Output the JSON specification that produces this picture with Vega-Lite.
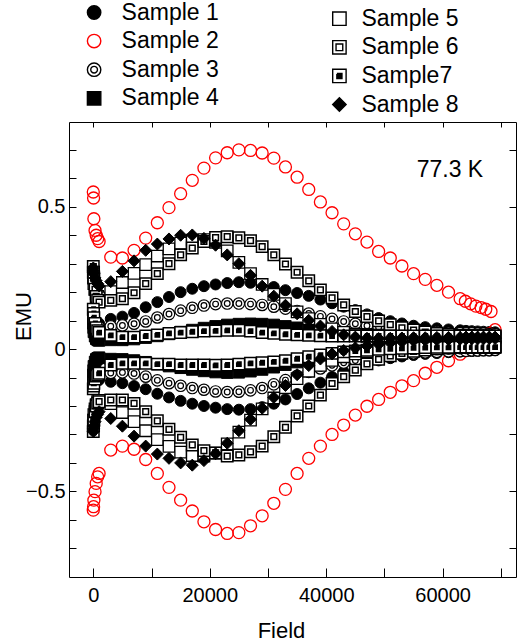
{
"$schema": "https://vega.github.io/schema/vega-lite/v6.json",
"width": 447,
"height": 455,
"autosize": {"type": "none"},
"padding": {"left": 69, "top": 122, "right": 1, "bottom": 67},
"config": {
  "font": "Liberation Sans",
  "view": {"stroke": "black", "strokeWidth": 1},
  "axis": {"domain": false, "grid": false, "tickColor": "black", "tickWidth": 1, "labelColor": "black", "titleColor": "black", "labelFontSize": 20, "titleFontSize": 22, "titleFontWeight": "normal", "labelOverlap": false},
  "legend": {"title": null, "labelFontSize": 23, "labelColor": "black", "symbolSize": 180, "symbolStrokeWidth": 1.4, "rowPadding": 4.6, "padding": 0, "labelLimit": 0},
  "point": {"opacity": 1}
},
"data": {"values": [
{"x":0,"b":"up","s1":0.100,"s2":0.552,"s3":0.130,"s4":0.090,"s5":0.270,"s6":0.290,"s7":0.140,"s8":0.285},
{"x":50,"b":"up","s1":0.092,"s2":0.531,"s3":0.115,"s4":0.075,"s5":0.250,"s6":0.270,"s7":0.125,"s8":0.275},
{"x":100,"b":"up","s1":0.086,"s2":0.458,"s3":0.100,"s4":0.060,"s5":0.230,"s6":0.250,"s7":0.110,"s8":0.265},
{"x":300,"b":"up","s1":0.083,"s2":0.417,"s3":0.090,"s4":0.045,"s5":0.210,"s6":0.210,"s7":0.090,"s8":0.250},
{"x":500,"b":"up","s1":0.084,"s2":0.400,"s3":0.085,"s4":0.036,"s5":0.195,"s6":0.185,"s7":0.075,"s8":0.240},
{"x":750,"b":"up","s1":0.087,"s2":0.388,"s3":0.080,"s4":0.032,"s5":0.185,"s6":0.172,"s7":0.065,"s8":0.230},
{"x":1000,"b":"up","s1":0.090,"s2":0.378,"s3":0.078,"s4":0.030,"s5":0.180,"s6":0.165,"s7":0.058,"s8":0.222},
{"x":3000,"b":"up","s1":0.106,"s2":0.323,"s3":0.080,"s4":0.032,"s5":0.202,"s6":0.171,"s7":0.048,"s8":0.237},
{"x":5000,"b":"up","s1":0.114,"s2":0.320,"s3":0.083,"s4":0.032,"s5":0.234,"s6":0.177,"s7":0.042,"s8":0.273},
{"x":7000,"b":"up","s1":0.127,"s2":0.347,"s3":0.089,"s4":0.035,"s5":0.266,"s6":0.198,"s7":0.042,"s8":0.310},
{"x":9000,"b":"up","s1":0.147,"s2":0.390,"s3":0.097,"s4":0.040,"s5":0.297,"s6":0.230,"s7":0.046,"s8":0.347},
{"x":11000,"b":"up","s1":0.165,"s2":0.444,"s3":0.111,"s4":0.046,"s5":0.327,"s6":0.265,"s7":0.050,"s8":0.369},
{"x":13000,"b":"up","s1":0.183,"s2":0.497,"s3":0.123,"s4":0.053,"s5":0.352,"s6":0.300,"s7":0.055,"s8":0.387},
{"x":15000,"b":"up","s1":0.200,"s2":0.546,"s3":0.135,"s4":0.060,"s5":0.372,"s6":0.331,"s7":0.058,"s8":0.400},
{"x":17000,"b":"up","s1":0.212,"s2":0.593,"s3":0.145,"s4":0.067,"s5":0.383,"s6":0.355,"s7":0.061,"s8":0.401},
{"x":19000,"b":"up","s1":0.221,"s2":0.636,"s3":0.153,"s4":0.074,"s5":0.385,"s6":0.378,"s7":0.063,"s8":0.389},
{"x":21000,"b":"up","s1":0.227,"s2":0.672,"s3":0.158,"s4":0.080,"s5":0.375,"s6":0.392,"s7":0.064,"s8":0.365},
{"x":23000,"b":"up","s1":0.232,"s2":0.690,"s3":0.160,"s4":0.085,"s5":0.345,"s6":0.395,"s7":0.066,"s8":0.331},
{"x":25000,"b":"up","s1":0.235,"s2":0.700,"s3":0.160,"s4":0.088,"s5":0.305,"s6":0.391,"s7":0.066,"s8":0.300},
{"x":27000,"b":"up","s1":0.233,"s2":0.698,"s3":0.158,"s4":0.089,"s5":0.265,"s6":0.381,"s7":0.063,"s8":0.259},
{"x":29000,"b":"up","s1":0.227,"s2":0.689,"s3":0.155,"s4":0.088,"s5":0.227,"s6":0.360,"s7":0.058,"s8":0.221},
{"x":31000,"b":"up","s1":0.218,"s2":0.671,"s3":0.149,"s4":0.085,"s5":0.192,"s6":0.331,"s7":0.055,"s8":0.186},
{"x":33000,"b":"up","s1":0.207,"s2":0.640,"s3":0.142,"s4":0.080,"s5":0.160,"s6":0.299,"s7":0.052,"s8":0.154},
{"x":35000,"b":"up","s1":0.197,"s2":0.604,"s3":0.134,"s4":0.075,"s5":0.131,"s6":0.270,"s7":0.050,"s8":0.124},
{"x":37000,"b":"up","s1":0.187,"s2":0.561,"s3":0.125,"s4":0.070,"s5":0.107,"s6":0.240,"s7":0.048,"s8":0.101},
{"x":39000,"b":"up","s1":0.174,"s2":0.517,"s3":0.115,"s4":0.065,"s5":0.087,"s6":0.208,"s7":0.047,"s8":0.081},
{"x":41000,"b":"up","s1":0.161,"s2":0.479,"s3":0.106,"s4":0.061,"s5":0.071,"s6":0.180,"s7":0.046,"s8":0.062},
{"x":43000,"b":"up","s1":0.149,"s2":0.440,"s3":0.097,"s4":0.057,"s5":0.059,"s6":0.155,"s7":0.046,"s8":0.050},
{"x":45000,"b":"up","s1":0.137,"s2":0.405,"s3":0.089,"s4":0.054,"s5":0.050,"s6":0.132,"s7":0.046,"s8":0.042},
{"x":47000,"b":"up","s1":0.122,"s2":0.376,"s3":0.082,"s4":0.052,"s5":0.045,"s6":0.114,"s7":0.046,"s8":0.038},
{"x":49000,"b":"up","s1":0.109,"s2":0.343,"s3":0.076,"s4":0.050,"s5":0.042,"s6":0.099,"s7":0.046,"s8":0.037},
{"x":51000,"b":"up","s1":0.098,"s2":0.320,"s3":0.071,"s4":0.049,"s5":0.041,"s6":0.086,"s7":0.046,"s8":0.038},
{"x":53000,"b":"up","s1":0.090,"s2":0.292,"s3":0.067,"s4":0.048,"s5":0.040,"s6":0.075,"s7":0.046,"s8":0.039},
{"x":55000,"b":"up","s1":0.082,"s2":0.265,"s3":0.064,"s4":0.047,"s5":0.040,"s6":0.067,"s7":0.046,"s8":0.040},
{"x":57000,"b":"up","s1":0.077,"s2":0.245,"s3":0.061,"s4":0.046,"s5":0.040,"s6":0.060,"s7":0.046,"s8":0.040},
{"x":59000,"b":"up","s1":0.073,"s2":0.224,"s3":0.059,"s4":0.046,"s5":0.040,"s6":0.055,"s7":0.046,"s8":0.041},
{"x":61000,"b":"up","s1":0.069,"s2":0.200,"s3":0.057,"s4":0.045,"s5":0.040,"s6":0.051,"s7":0.046,"s8":0.041},
{"x":63000,"b":"up","s1":0.066,"s2":0.177,"s3":0.056,"s4":0.045,"s5":0.040,"s6":0.049,"s7":0.046,"s8":0.041},
{"x":64000,"b":"up","s1":0.064,"s3":0.055,"s4":0.045,"s5":0.040,"s6":0.048,"s7":0.046,"s8":0.042},
{"x":65000,"b":"up","s1":0.063,"s3":0.055,"s4":0.045,"s5":0.040,"s6":0.047,"s7":0.046,"s8":0.042},
{"x":66000,"b":"up","s1":0.062,"s3":0.054,"s4":0.045,"s5":0.040,"s6":0.046,"s7":0.046,"s8":0.042},
{"x":67000,"b":"up","s1":0.061,"s3":0.054,"s4":0.045,"s5":0.040,"s6":0.046,"s7":0.046,"s8":0.042},
{"x":68000,"b":"up","s1":0.060,"s3":0.053,"s4":0.045,"s5":0.040,"s6":0.045,"s7":0.046,"s8":0.042},
{"x":69000,"b":"up","s1":0.059,"s3":0.053,"s4":0.045,"s5":0.040,"s6":0.045,"s7":0.046,"s8":0.042},
{"x":63900,"b":"up","s2":0.168},
{"x":64800,"b":"up","s2":0.159},
{"x":65700,"b":"up","s2":0.151},
{"x":66600,"b":"up","s2":0.146},
{"x":67400,"b":"up","s2":0.140},
{"x":68300,"b":"up","s2":0.132},
{"x":0,"b":"low","s1":-0.100,"s2":-0.566,"s3":-0.130,"s4":-0.090,"s5":-0.270,"s6":-0.290,"s7":-0.140,"s8":-0.290},
{"x":50,"b":"low","s1":-0.096,"s2":-0.554,"s3":-0.120,"s4":-0.075,"s5":-0.250,"s6":-0.270,"s7":-0.130,"s8":-0.280},
{"x":100,"b":"low","s1":-0.095,"s2":-0.531,"s3":-0.110,"s4":-0.060,"s5":-0.230,"s6":-0.250,"s7":-0.120,"s8":-0.270},
{"x":300,"b":"low","s1":-0.097,"s2":-0.501,"s3":-0.100,"s4":-0.045,"s5":-0.210,"s6":-0.220,"s7":-0.105,"s8":-0.255},
{"x":500,"b":"low","s1":-0.101,"s2":-0.472,"s3":-0.093,"s4":-0.036,"s5":-0.195,"s6":-0.200,"s7":-0.095,"s8":-0.240},
{"x":750,"b":"low","s1":-0.105,"s2":-0.449,"s3":-0.088,"s4":-0.032,"s5":-0.185,"s6":-0.190,"s7":-0.090,"s8":-0.230},
{"x":1000,"b":"low","s1":-0.108,"s2":-0.437,"s3":-0.085,"s4":-0.030,"s5":-0.180,"s6":-0.185,"s7":-0.085,"s8":-0.220},
{"x":3000,"b":"low","s1":-0.115,"s2":-0.355,"s3":-0.084,"s4":-0.035,"s5":-0.192,"s6":-0.179,"s7":-0.056,"s8":-0.244},
{"x":5000,"b":"low","s1":-0.120,"s2":-0.341,"s3":-0.082,"s4":-0.036,"s5":-0.223,"s6":-0.179,"s7":-0.050,"s8":-0.271},
{"x":7000,"b":"low","s1":-0.130,"s2":-0.352,"s3":-0.086,"s4":-0.040,"s5":-0.255,"s6":-0.191,"s7":-0.050,"s8":-0.306},
{"x":9000,"b":"low","s1":-0.141,"s2":-0.388,"s3":-0.097,"s4":-0.046,"s5":-0.287,"s6":-0.220,"s7":-0.050,"s8":-0.341},
{"x":11000,"b":"low","s1":-0.157,"s2":-0.437,"s3":-0.110,"s4":-0.053,"s5":-0.318,"s6":-0.252,"s7":-0.053,"s8":-0.369},
{"x":13000,"b":"low","s1":-0.170,"s2":-0.486,"s3":-0.120,"s4":-0.060,"s5":-0.342,"s6":-0.282,"s7":-0.053,"s8":-0.384},
{"x":15000,"b":"low","s1":-0.182,"s2":-0.531,"s3":-0.129,"s4":-0.066,"s5":-0.362,"s6":-0.310,"s7":-0.056,"s8":-0.400},
{"x":17000,"b":"low","s1":-0.192,"s2":-0.569,"s3":-0.137,"s4":-0.072,"s5":-0.374,"s6":-0.337,"s7":-0.056,"s8":-0.408},
{"x":19000,"b":"low","s1":-0.200,"s2":-0.607,"s3":-0.143,"s4":-0.077,"s5":-0.376,"s6":-0.357,"s7":-0.056,"s8":-0.392},
{"x":21000,"b":"low","s1":-0.206,"s2":-0.634,"s3":-0.149,"s4":-0.081,"s5":-0.366,"s6":-0.365,"s7":-0.057,"s8":-0.368},
{"x":23000,"b":"low","s1":-0.211,"s2":-0.648,"s3":-0.151,"s4":-0.083,"s5":-0.333,"s6":-0.376,"s7":-0.056,"s8":-0.331},
{"x":25000,"b":"low","s1":-0.213,"s2":-0.645,"s3":-0.150,"s4":-0.082,"s5":-0.292,"s6":-0.372,"s7":-0.053,"s8":-0.287},
{"x":27000,"b":"low","s1":-0.211,"s2":-0.621,"s3":-0.145,"s4":-0.078,"s5":-0.250,"s6":-0.361,"s7":-0.050,"s8":-0.247},
{"x":29000,"b":"low","s1":-0.204,"s2":-0.586,"s3":-0.137,"s4":-0.072,"s5":-0.210,"s6":-0.341,"s7":-0.048,"s8":-0.208},
{"x":31000,"b":"low","s1":-0.192,"s2":-0.542,"s3":-0.124,"s4":-0.064,"s5":-0.172,"s6":-0.308,"s7":-0.045,"s8":-0.170},
{"x":33000,"b":"low","s1":-0.177,"s2":-0.493,"s3":-0.109,"s4":-0.055,"s5":-0.136,"s6":-0.275,"s7":-0.041,"s8":-0.128},
{"x":35000,"b":"low","s1":-0.158,"s2":-0.437,"s3":-0.094,"s4":-0.046,"s5":-0.104,"s6":-0.235,"s7":-0.034,"s8":-0.090},
{"x":37000,"b":"low","s1":-0.138,"s2":-0.384,"s3":-0.080,"s4":-0.038,"s5":-0.078,"s6":-0.200,"s7":-0.027,"s8":-0.058},
{"x":39000,"b":"low","s1":-0.118,"s2":-0.341,"s3":-0.068,"s4":-0.030,"s5":-0.057,"s6":-0.162,"s7":-0.021,"s8":-0.035},
{"x":41000,"b":"low","s1":-0.098,"s2":-0.300,"s3":-0.057,"s4":-0.023,"s5":-0.040,"s6":-0.121,"s7":-0.015,"s8":-0.017},
{"x":43000,"b":"low","s1":-0.080,"s2":-0.267,"s3":-0.048,"s4":-0.017,"s5":-0.027,"s6":-0.097,"s7":-0.010,"s8":-0.005},
{"x":45000,"b":"low","s1":-0.064,"s2":-0.232,"s3":-0.040,"s4":-0.012,"s5":-0.017,"s6":-0.074,"s7":-0.007,"s8":0.004},
{"x":47000,"b":"low","s1":-0.050,"s2":-0.201,"s3":-0.033,"s4":-0.008,"s5":-0.009,"s6":-0.052,"s7":-0.004,"s8":0.011},
{"x":49000,"b":"low","s1":-0.040,"s2":-0.177,"s3":-0.027,"s4":-0.004,"s5":-0.003,"s6":-0.036,"s7":-0.001,"s8":0.017},
{"x":51000,"b":"low","s1":-0.032,"s2":-0.152,"s3":-0.022,"s4":-0.001,"s5":0.001,"s6":-0.024,"s7":0.001,"s8":0.022},
{"x":53000,"b":"low","s1":-0.026,"s2":-0.129,"s3":-0.018,"s4":0.001,"s5":0.004,"s6":-0.015,"s7":0.003,"s8":0.026},
{"x":55000,"b":"low","s1":-0.021,"s2":-0.111,"s3":-0.015,"s4":0.003,"s5":0.005,"s6":-0.008,"s7":0.004,"s8":0.029},
{"x":57000,"b":"low","s1":-0.017,"s2":-0.085,"s3":-0.012,"s4":0.004,"s5":0.006,"s6":-0.003,"s7":0.005,"s8":0.031},
{"x":59000,"b":"low","s1":-0.014,"s2":-0.064,"s3":-0.010,"s4":0.005,"s5":0.007,"s6":0.001,"s7":0.006,"s8":0.033},
{"x":61000,"b":"low","s1":-0.011,"s2":-0.041,"s3":-0.008,"s4":0.005,"s5":0.007,"s6":0.004,"s7":0.006,"s8":0.034},
{"x":63000,"b":"low","s1":-0.009,"s2":-0.018,"s3":-0.007,"s4":0.005,"s5":0.007,"s6":0.006,"s7":0.007,"s8":0.035},
{"x":64000,"b":"low","s1":-0.008,"s2":-0.004,"s3":-0.006,"s4":0.005,"s5":0.007,"s6":0.007,"s7":0.007,"s8":0.035},
{"x":65000,"b":"low","s1":-0.007,"s2":0.010,"s3":-0.005,"s4":0.005,"s5":0.007,"s6":0.007,"s7":0.007,"s8":0.036},
{"x":66000,"b":"low","s1":-0.006,"s2":0.024,"s3":-0.005,"s4":0.005,"s5":0.007,"s6":0.008,"s7":0.007,"s8":0.036},
{"x":67000,"b":"low","s1":-0.005,"s2":0.038,"s3":-0.004,"s4":0.005,"s5":0.007,"s6":0.008,"s7":0.007,"s8":0.036},
{"x":68000,"b":"low","s1":-0.005,"s2":0.053,"s3":-0.004,"s4":0.005,"s5":0.007,"s6":0.008,"s7":0.007,"s8":0.037},
{"x":69000,"b":"low","s1":-0.004,"s2":0.068,"s3":-0.003,"s4":0.005,"s5":0.007,"s6":0.008,"s7":0.007,"s8":0.037}
]},
"layer": [
  {"layer": [
    {"mark": {"type": "point", "size": 120, "strokeWidth": 1},
     "encoding": {
       "x": {"field": "x", "type": "quantitative", "title": "Field", "scale": {"domain": [-4170, 72590], "nice": false, "zero": false},
             "axis": {"orient": "bottom", "values": [0,10000,20000,30000,40000,50000,60000,70000], "format": "d", "labelExpr": "datum.value % 20000 === 0 ? datum.label : ''", "labelOverlap": false, "tickSize": -9, "labelPadding": 17, "titleX": 212, "titleY": 60, "titleBaseline": "alphabetic"}},
       "y": {"field": "s1", "type": "quantitative", "title": "EMU", "scale": {"domain": [-0.801, 0.798], "nice": false, "zero": false},
             "axis": {"orient": "left", "values": [-0.5, 0, 0.5], "format": "~g", "labelOverlap": false, "tickSize": -7, "labelPadding": 11, "titleX": -39, "titleY": 194, "titleBaseline": "alphabetic"}},
       "shape": {"datum": "Sample 1", "type": "nominal", "scale": {"domain": ["Sample 1","Sample 2","Sample 3","Sample 4"], "range": ["circle","circle","M1,0A1,1,0,1,1,-1,0A1,1,0,1,1,1,0ZM0.5,0A0.5,0.5,0,1,1,-0.5,0A0.5,0.5,0,1,1,0.5,0Z","square"]}, "legend": {"orient": "none", "legendX": 13.6, "legendY": -121, "labelOffset": 16}},
       "fill": {"datum": "Sample 1", "type": "nominal", "scale": {"domain": ["Sample 1","Sample 2","Sample 3","Sample 4"], "range": ["black","transparent","white","black"]}, "legend": {"orient": "none", "legendX": 13.6, "legendY": -121, "labelOffset": 16}},
       "stroke": {"datum": "Sample 1", "type": "nominal", "scale": {"domain": ["Sample 1","Sample 2","Sample 3","Sample 4"], "range": ["black","red","black","black"]}, "legend": {"orient": "none", "legendX": 13.6, "legendY": -121, "labelOffset": 16}}
     }},
    {"mark": {"type": "point", "size": 144, "strokeWidth": 1.3},
     "encoding": {
       "x": {"field": "x", "type": "quantitative", "title": "Field"},
       "y": {"field": "s2", "type": "quantitative", "title": "EMU"},
       "shape": {"datum": "Sample 2", "type": "nominal"},
       "fill": {"datum": "Sample 2", "type": "nominal"},
       "stroke": {"datum": "Sample 2", "type": "nominal"}
     }},
    {"mark": {"type": "point", "size": 130, "strokeWidth": 1.2},
     "encoding": {
       "x": {"field": "x", "type": "quantitative", "title": "Field"},
       "y": {"field": "s3", "type": "quantitative", "title": "EMU"},
       "shape": {"datum": "Sample 3", "type": "nominal"},
       "fill": {"datum": "Sample 3", "type": "nominal"},
       "stroke": {"datum": "Sample 3", "type": "nominal"}
     }},
    {"mark": {"type": "point", "size": 130, "strokeWidth": 1},
     "encoding": {
       "x": {"field": "x", "type": "quantitative", "title": "Field"},
       "y": {"field": "s4", "type": "quantitative", "title": "EMU"},
       "shape": {"datum": "Sample 4", "type": "nominal"},
       "fill": {"datum": "Sample 4", "type": "nominal"},
       "stroke": {"datum": "Sample 4", "type": "nominal"}
     }}
  ]},
  {"layer": [
    {"mark": {"type": "point", "size": 132, "strokeWidth": 1.3},
     "encoding": {
       "x": {"field": "x", "type": "quantitative", "title": null,
             "axis": {"orient": "top", "values": [0,10000,20000,30000,40000,50000,60000,70000], "labels": false, "tickSize": -5}},
       "y": {"field": "s5", "type": "quantitative", "title": null,
             "axis": {"orient": "right", "values": [-0.7,-0.6,-0.5,-0.4,-0.3,-0.2,-0.1,0,0.1,0.2,0.3,0.4,0.5,0.6,0.7], "labels": false, "tickSize": -7}},
       "shape": {"datum": "Sample 5", "type": "nominal", "scale": {"domain": ["Sample 5","Sample 6","Sample7","Sample 8"], "range": ["square","M-1,-1H1V1H-1ZM-0.5,-0.5H0.5V0.5H-0.5Z","M-1,-1H1V1H-1ZM-0.38,-0.38H0.38V-0.19H-0.38V0H0.38V0.19H-0.38V0.38H0.38V-0.38Z","diamond"]}, "legend": {"orient": "none", "legendX": 258.9, "legendY": -114.8, "labelOffset": 10.5}},
       "fill": {"datum": "Sample 5", "type": "nominal", "scale": {"domain": ["Sample 5","Sample 6","Sample7","Sample 8"], "range": ["white","white","white","black"]}, "legend": {"orient": "none", "legendX": 258.9, "legendY": -114.8, "labelOffset": 10.5}},
       "stroke": {"datum": "Sample 5", "type": "nominal", "scale": {"domain": ["Sample 5","Sample 6","Sample7","Sample 8"], "range": ["black","black","black","black"]}, "legend": {"orient": "none", "legendX": 258.9, "legendY": -114.8, "labelOffset": 10.5}}
     }},
    {"mark": {"type": "point", "size": 130, "strokeWidth": 1.5},
     "encoding": {
       "x": {"field": "x", "type": "quantitative", "title": null},
       "y": {"field": "s6", "type": "quantitative", "title": null},
       "shape": {"datum": "Sample 6", "type": "nominal"},
       "fill": {"datum": "Sample 6", "type": "nominal"},
       "stroke": {"datum": "Sample 6", "type": "nominal"}
     }},
    {"mark": {"type": "point", "size": 130, "strokeWidth": 1.5},
     "encoding": {
       "x": {"field": "x", "type": "quantitative", "title": null},
       "y": {"field": "s7", "type": "quantitative", "title": null},
       "shape": {"datum": "Sample7", "type": "nominal"},
       "fill": {"datum": "Sample7", "type": "nominal"},
       "stroke": {"datum": "Sample7", "type": "nominal"}
     }},
    {"mark": {"type": "point", "size": 144, "strokeWidth": 1},
     "encoding": {
       "x": {"field": "x", "type": "quantitative", "title": null},
       "y": {"field": "s8", "type": "quantitative", "title": null},
       "shape": {"datum": "Sample 8", "type": "nominal"},
       "fill": {"datum": "Sample 8", "type": "nominal"},
       "stroke": {"datum": "Sample 8", "type": "nominal"}
     }}
  ]},
  {"data": {"values": [{"label": "77.3 K", "x": 61240, "y": 0.605}]},
   "mark": {"type": "text", "fontSize": 23, "align": "center", "baseline": "alphabetic", "color": "black"},
   "encoding": {
     "x": {"field": "x", "type": "quantitative", "axis": null},
     "y": {"field": "y", "type": "quantitative", "title": null,
           "axis": {"orient": "left", "values": [-0.7,-0.6,-0.4,-0.3,-0.2,-0.1,0.1,0.2,0.3,0.4,0.6,0.7], "labels": false, "tickSize": -7}},
     "text": {"field": "label"}
   }}
],
"resolve": {"scale": {"shape": "independent", "fill": "independent", "stroke": "independent"}, "axis": {"x": "independent", "y": "independent"}}
}
